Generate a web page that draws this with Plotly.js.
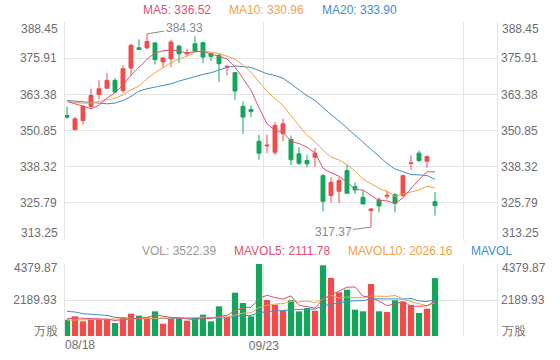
<!DOCTYPE html>
<html><head><meta charset="utf-8">
<script src="https://cdn.plot.ly/plotly-3.0.1.min.js"></script>
<style>html,body{margin:0;padding:0;background:#fff;}#chart{width:560px;height:360px;}</style>
</head><body><div id="chart"></div>
<script>
// ---- data ----
const openP  = [356.05,351.2,354.3,359.2,363.35,365.5,368.2,364.7,372.5,379.5,379.5,381.2,374.6,375.7,380.1,377.45,380.9,381.3,377.45,376.9,372.8,370.9,359.2,358.1,347.15,345.5,343.3,349.7,347.7,342.75,340.45,341.6,335.2,328.3,329.8,336.95,331.4,327.7,323.1,326.8,328.05,328.6,328.3,339.4,343.0,340.2,326.2];
const highP  = [359.18,355.5,359.75,365.3,368.2,370.75,369.1,373.4,380.9,382.4,384.33,381.5,376.3,382.3,380.6,379.2,383.5,381.6,378.0,377.7,373.6,371.1,360.9,359.5,349.45,349.45,353.75,354.9,349.1,345.05,342.4,344.8,335.8,334.65,334.65,339.05,332.9,330.25,323.9,327.7,330.0,329.1,335.6,342.2,343.9,342.2,329.45];
const lowP   = [354.9,350.8,352.9,358.7,361.6,365.3,363.9,363.8,369.9,378.85,379.0,373.75,372.8,372.8,374.2,376.5,377.7,374.2,374.9,367.6,369.9,361.5,349.7,355.5,340.7,343.0,342.4,347.15,338.9,338.9,338.1,338.35,322.85,326.0,325.6,328.9,328.9,325.2,317.37,322.5,327.1,322.5,327.9,337.2,339.85,337.9,321.35];
const closeP = [355.47,354.9,359.2,363.0,365.3,368.2,364.15,372.25,380.35,378.95,381.7,375.4,376.0,381.5,377.45,377.9,378.4,376.3,376.5,374.0,373.05,364.5,355.5,357.4,343.0,345.75,352.6,353.15,340.7,339.5,339.3,343.0,326.3,332.9,333.5,329.1,330.25,325.4,323.65,324.7,328.4,325.6,335.2,339.6,340.45,341.8,324.8];
const ma5  = [360.9,360.2,359.3,358.4,359.57,362.12,363.97,366.58,370.05,372.78,375.48,377.73,378.48,378.71,378.41,377.65,378.25,378.31,377.31,376.62,375.65,372.87,368.71,364.89,358.69,353.23,350.85,350.38,347.04,346.34,345.05,343.13,337.76,336.2,335.0,332.96,330.41,330.23,328.38,326.62,326.48,325.55,327.51,330.7,333.85,336.53,336.52];
const ma10 = [361.2,360.6,360.3,360.4,360.9,361.4,362.0,363.2,365.0,366.18,368.8,370.85,372.53,374.38,375.6,376.57,377.99,378.4,378.01,377.52,376.65,375.56,373.51,371.1,367.66,364.44,361.86,359.55,355.97,352.52,349.14,346.99,344.07,341.62,340.67,339.01,336.77,334.0,332.29,330.81,329.72,327.98,328.87,329.54,330.24,331.51,330.96];
const ma20 = [361.26,361.03,360.68,360.45,360.34,360.1,360.34,361.26,362.65,364.5,365.31,365.89,366.35,367.05,367.97,368.78,369.6,370.3,370.86,371.85,372.73,373.21,373.02,372.74,371.63,370.5,369.93,368.97,366.99,365.02,362.9,361.28,358.79,356.36,354.16,351.72,349.32,346.77,344.13,341.66,339.43,337.49,336.47,335.58,335.45,335.26,333.90];
const volume = [994,1196,892,1034,994,994,791,1136,1359,1237,1136,1500,750,1034,1095,933,1095,1298,892,1805,1136,2636,2007,1196,4379.87,2190,1906,1561,2170,1500,1703,1541,4299,3528,2656,2818,1602,1500,3163,1500,1460,2170,2100,1880,1399,1663,3522.39];
const mavol5  = [1050,1100,1080,1060,1022,1022,941,990,1055,1103,1132,1274,1196,1131,1103,1062,981,1091,1063,1205,1245,1553,1695,1756,2271,2482,2336,2247,2441,1865,1768,1695,2243,2514,2745,2968,2981,2421,2348,2117,1845,1959,2079,1822,1802,1842,2111.78];
const mavol10 = [960,980,990,1000,1010,1020,1030,1040,1050,1063,1077,1107,1093,1093,1103,1097,1128,1144,1097,1154,1154,1267,1393,1409,1738,1863,1945,1971,2099,2068,2125,2015,2245,2478,2305,2368,2338,2332,2431,2431,2407,2470,2250,2085,1959,1844,2026.16];
const mavol20 = [1500,1460,1360,1330,1300,1250,1130,1080,1070,1060,1060,1060,1060,1060,1060,1065,1075,1085,1095,1108,1115,1187,1243,1251,1420,1480,1536,1557,1598,1611,1639,1641,1819,1944,2022,2116,2141,2151,2265,2250,2266,2242,2247,2281,2132,2106,2187];
const priceTicks = [313.25,325.79,338.32,350.85,363.38,375.91,388.45];
const volTicks = [0,2189.93,4379.87];
const volUnit = '万股';
const dateLabels = ['08/18','09/23'];

// ---- styling ----
const RED='#f24b4b', GREEN='#13a65b', C5='#e0506f', C10='#f5a04a', C20='#3d8fd3', GRID='#e4e4e4', TXT='#6e6e6e';
const FONT='Liberation Sans, Arial, sans-serif';
const idx = closeP.map((_,i)=>i);
const last = a => a[a.length-1];

const traces = [
  {type:'candlestick', x:idx, open:openP, high:highP, low:lowP, close:closeP, xaxis:'x', yaxis:'y',
   increasing:{line:{color:RED,width:1}, fillcolor:RED}, decreasing:{line:{color:GREEN,width:1}, fillcolor:GREEN},
   whiskerwidth:0, hoverinfo:'skip', showlegend:false},
  {type:'scatter', mode:'lines', x:idx, y:ma20, xaxis:'x', yaxis:'y3', line:{color:C20,width:1}, hoverinfo:'skip'},
  {type:'scatter', mode:'lines', x:idx, y:ma10, xaxis:'x', yaxis:'y3', line:{color:C10,width:1}, hoverinfo:'skip'},
  {type:'scatter', mode:'lines', x:idx, y:ma5, xaxis:'x', yaxis:'y3', line:{color:C5,width:1}, hoverinfo:'skip'},
  {type:'bar', x:idx, y:volume, xaxis:'x', yaxis:'y2', marker:{color:idx.map(i=>closeP[i]>=openP[i]?RED:GREEN), line:{width:0}}, hoverinfo:'skip'},
  {type:'scatter', mode:'lines', x:idx, y:mavol20, xaxis:'x', yaxis:'y4', line:{color:C20,width:1}, hoverinfo:'skip'},
  {type:'scatter', mode:'lines', x:idx, y:mavol10, xaxis:'x', yaxis:'y4', line:{color:C10,width:1}, hoverinfo:'skip'},
  {type:'scatter', mode:'lines', x:idx, y:mavol5, xaxis:'x', yaxis:'y4', line:{color:C5,width:1}, hoverinfo:'skip'}
];

const pRange=[priceTicks[0], last(priceTicks)], vRange=[volTicks[0], last(volTicks)];
const midText = (arr)=>arr.map((v,i)=>(i===0||i===arr.length-1)?'':v.toFixed(2));
const yCommon = {showgrid:true, gridcolor:GRID, gridwidth:1, zeroline:false, showline:true, linecolor:GRID, mirror:true, ticks:'', fixedrange:true, tickfont:{family:FONT,size:12,color:TXT}, ticklabelstandoff:5};
const yRight = {showgrid:false, zeroline:false, showline:false, ticks:'', side:'right', fixedrange:true, tickfont:{family:FONT,size:12,color:TXT}, ticklabelstandoff:3};

const annos = [];
const fnt = (c)=>({family:FONT,size:12,color:c});
// extreme labels of price and volume axes (both sides)
function sideLabels(text, yref, yval, yshift){
  annos.push({xref:'paper', yref:yref, x:0, y:yval, xanchor:'right', yanchor:'middle', xshift:-5, yshift:yshift, text:text, showarrow:false, font:fnt(TXT)});
  annos.push({xref:'paper', yref:yref, x:1, y:yval, xanchor:'left', yanchor:'middle', xshift:3, yshift:yshift, text:text, showarrow:false, font:fnt(TXT)});
}
sideLabels(last(priceTicks).toFixed(2), 'y', last(priceTicks), -7);
sideLabels(priceTicks[0].toFixed(2), 'y', priceTicks[0], 6);
sideLabels(last(volTicks).toFixed(2), 'y2', last(volTicks), -4);
sideLabels(volUnit, 'y2', volTicks[0], 5);
// first date label (left aligned at the edge)
annos.push({xref:'x', yref:'paper', x:-0.25, y:0, xanchor:'left', yanchor:'middle', xshift:-2, yshift:-9, text:dateLabels[0], showarrow:false, font:fnt(TXT)});
// legends
const legY1 = (336-10)/314, legY2 = (336-251)/314;
const px = p => (p-65)/432;
[[ 'MA5: '+last(ma5).toFixed(2), C5, 143, legY1],
 [ 'MA10: '+last(ma10).toFixed(2), C10, 229, legY1],
 [ 'MA20: '+last(ma20).toFixed(2), C20, 322, legY1],
 [ 'VOL: '+last(volume).toFixed(2), '#999999', 142, legY2],
 [ 'MAVOL5: '+last(mavol5).toFixed(2), C5, 234, legY2],
 [ 'MAVOL10: '+last(mavol10).toFixed(2), C10, 348, legY2],
 [ 'MAVOL', C20, 471, legY2]
].forEach(([t,c,p,y])=>annos.push({xref:'paper', yref:'paper', x:px(p), y:y, xanchor:'left', yanchor:'middle', xshift:-2, text:t, showarrow:false, font:fnt(c)}));
// max / min markers
const hiMax = Math.max(...highP), hiIdx = highP.indexOf(hiMax);
const loMin = Math.min(...lowP), loIdx = lowP.indexOf(loMin);
annos.push({xref:'x', yref:'y', x:hiIdx, y:hiMax, text:hiMax.toFixed(2), showarrow:true, arrowhead:0, arrowwidth:1, arrowcolor:'#8a8a8a', ax:37, ay:-6, standoff:0, font:fnt('#8a8a8a')});
annos.push({xref:'x', yref:'y', x:loIdx, y:loMin, text:loMin.toFixed(2), showarrow:true, arrowhead:0, arrowwidth:1, arrowcolor:'#8a8a8a', ax:-38, ay:5, standoff:0, font:fnt('#8a8a8a')});

const layout = {
  width:560, height:360, margin:{l:65, r:63, t:22, b:24, pad:0},
  paper_bgcolor:'#fff', plot_bgcolor:'#fff', showlegend:false, bargap:0.22,
  font:{family:FONT, size:12, color:TXT},
  xaxis:{range:[-0.25,53.75], anchor:'y2', tickmode:'array', tickvals:[24.6,49.6], ticktext:[dateLabels[1],''],
         showgrid:true, gridcolor:GRID, gridwidth:1, zeroline:false, showline:false, ticks:'', fixedrange:true,
         rangeslider:{visible:false}, tickfont:{family:FONT,size:12,color:TXT}, ticklabelstandoff:1},
  yaxis: Object.assign({domain:[(336-239)/314,1], range:pRange, tickmode:'array', tickvals:priceTicks, ticktext:midText(priceTicks)}, yCommon),
  yaxis3: Object.assign({overlaying:'y', anchor:'x', range:pRange, tickmode:'array', tickvals:priceTicks, ticktext:midText(priceTicks)}, yRight),
  yaxis2: Object.assign({domain:[0,(336-264)/314], range:vRange, tickmode:'array', tickvals:volTicks, ticktext:midText(volTicks)}, yCommon),
  yaxis4: Object.assign({overlaying:'y2', anchor:'x', range:vRange, tickmode:'array', tickvals:volTicks, ticktext:midText(volTicks)}, yRight),
  annotations: annos
};
Plotly.newPlot('chart', traces, layout, {displayModeBar:false, staticPlot:true});
</script></body></html>
